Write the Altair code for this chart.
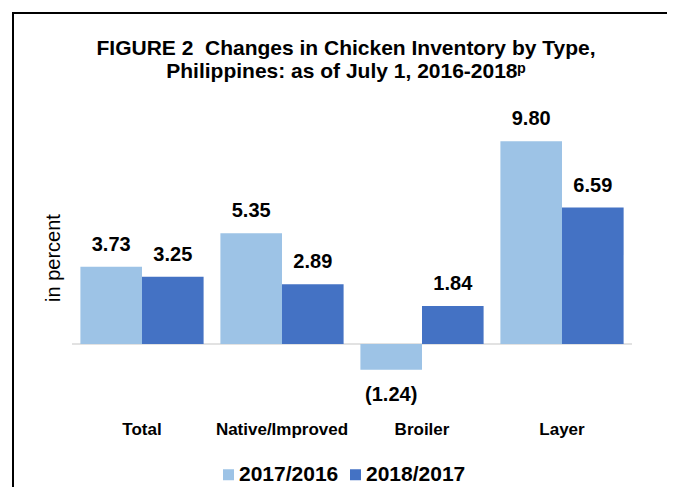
import altair as alt
import pandas as pd

categories = ["Total", "Native/Improved", "Broiler", "Layer"]
series = ["2017/2016", "2018/2017"]
values_2017_2016 = [3.73, 5.35, -1.24, 9.80]
values_2018_2017 = [3.25, 2.89, 1.84, 6.59]
colors = ["#9DC3E6", "#4472C4"]

rows = []
for s, vals in zip(series, [values_2017_2016, values_2018_2017]):
    for c, v in zip(categories, vals):
        lab = f"({abs(v):.2f})" if v < 0 else f"{v:.2f}"
        rows.append({"category": c, "series": s, "value": v, "label": lab})
df = pd.DataFrame(rows)

FONT = "Liberation Sans"

x_enc = alt.X(
    "category:N",
    sort=categories,
    scale=alt.Scale(paddingInner=0.12, paddingOuter=0.06),
    axis=alt.Axis(
        title=None, ticks=False, tickSize=0, domain=False, labelAngle=0,
        labelFontSize=17, labelFontWeight="bold", labelFont=FONT,
        labelColor="black", labelPadding=6,
    ),
)
xoff = alt.XOffset("series:N", sort=series, scale=alt.Scale(paddingInner=0, paddingOuter=0))
y_enc = alt.Y(
    "value:Q",
    scale=alt.Scale(domain=[-3.43, 11.79], nice=False, zero=False),
    axis=alt.Axis(
        title="in percent", labels=False, ticks=False, domain=False, grid=False,
        titleFontSize=20, titleFontWeight="normal", titleFont=FONT,
        titleColor="black", titlePadding=9,
    ),
)

base = alt.Chart(df).encode(x=x_enc, xOffset=xoff)

bars = base.mark_bar().encode(
    y=y_enc,
    color=alt.Color(
        "series:N",
        sort=series,
        scale=alt.Scale(domain=series, range=colors),
        legend=alt.Legend(
            title=None, orient="none", legendX=146, legendY=364,
            direction="horizontal", symbolType="square", symbolSize=121,
            symbolStrokeWidth=0, labelFontSize=21, labelFontWeight="bold",
            labelFont=FONT, labelColor="black", columnPadding=6, labelOffset=0,
        ),
    ),
)

pos_labels = base.transform_filter("datum.value >= 0").mark_text(
    baseline="alphabetic", dy=-16, fontSize=20, fontWeight="bold", font=FONT, color="black"
).encode(y=alt.Y("value:Q"), text="label:N")

neg_labels = base.transform_filter("datum.value < 0").mark_text(
    baseline="alphabetic", dy=31, fontSize=20, fontWeight="bold", font=FONT, color="black"
).encode(y=alt.Y("value:Q"), text="label:N")

zero_rule = alt.Chart(pd.DataFrame({"zero": [0]})).mark_rule(
    color="#d9d9d9", strokeWidth=1.5
).encode(y="zero:Q")

frame = alt.Chart(pd.DataFrame({"a": [0]})).mark_rect(
    fillOpacity=0, stroke="black", strokeWidth=2
).encode(x=alt.value(-59), x2=alt.value(597), y=alt.value(-87), y2=alt.value(395))

chart = alt.layer(zero_rule, bars, pos_labels, neg_labels, frame).properties(
    width=560,
    height=315,
    background="white",
    autosize=alt.AutoSizeParams(type="none"),
    padding={"left": 64, "top": 92, "right": 35, "bottom": 80},
    title=alt.TitleParams(
        ["FIGURE 2\u00a0\u00a0Changes in Chicken Inventory by Type,", "Philippines: as of July 1, 2016-2018ᵖ"],
        fontSize=21, fontWeight="bold", font=FONT, color="black",
        anchor="middle", lineHeight=23, offset=-70, dx=-6,
    ),
).configure_view(stroke=None)

chart.save("out.html", embed_options={"renderer": "svg", "actions": False})
